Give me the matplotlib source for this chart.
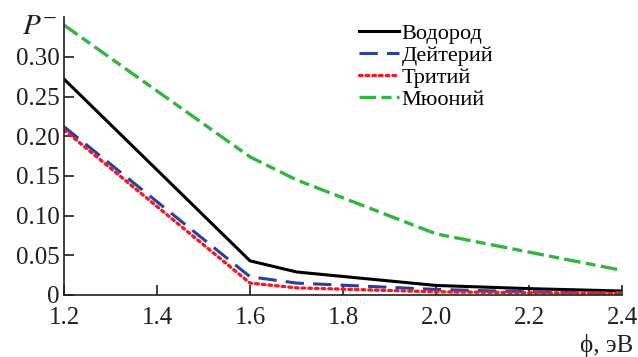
import matplotlib
matplotlib.use("Agg")
import matplotlib.pyplot as plt

# Data
phi = [1.2, 1.6, 1.7, 2.0, 2.2, 2.4]
hydrogen = [0.272, 0.043, 0.029, 0.012, 0.008, 0.005]
deuterium = [0.212, 0.023, 0.015, 0.007, 0.004, 0.003]
tritium = [0.208, 0.015, 0.009, 0.004, 0.003, 0.002]
muonium = [0.340, 0.174, 0.145, 0.077, 0.054, 0.031]

labels = ["Водород", "Дейтерий", "Тритий", "Мюоний"]
xticks = [1.2, 1.4, 1.6, 1.8, 2.0, 2.2, 2.4]
yticks = [0, 0.05, 0.10, 0.15, 0.20, 0.25, 0.30]
ytick_labels = ["0", "0.05", "0.10", "0.15", "0.20", "0.25", "0.30"]

plt.rcParams["font.family"] = ["Liberation Serif", "DejaVu Serif"]

fig = plt.figure(figsize=(6.38, 3.57), dpi=100)
ax = fig.add_axes([0.1003, 0.1737, 0.8747, 0.7783])

ax.plot(phi, hydrogen, color="black", lw=2.2, label=labels[0])
ax.plot(phi, deuterium, color="#2b3f9e", lw=2.2, dashes=(6, 3), label=labels[1])
ax.plot(phi, tritium, color="#ee1c24", lw=2.4, linestyle=(0, (0.8, 1.2)),
        dash_capstyle="round", label=labels[2])
ax.plot(phi, muonium, color="#33b540", lw=2.4, dashes=(5, 1.6, 3, 1.6), label=labels[3])

ax.set_xlim(1.2, 2.4)
ax.set_ylim(0, 0.35)
ax.set_xticks(xticks)
ax.set_xticklabels([f"{t:.1f}" for t in xticks])
ax.set_yticks(yticks)
ax.set_yticklabels(ytick_labels)
ax.tick_params(direction="in", length=7, width=1.2, labelsize=18, colors="#231f20")
ax.tick_params(axis="x", pad=9)
ax.tick_params(axis="y", pad=3)

for s in ["top", "right"]:
    ax.spines[s].set_visible(False)
for s in ["left", "bottom"]:
    ax.spines[s].set_linewidth(1.2)
    ax.spines[s].set_color("#231f20")

fig.text(0.034, 0.905, "$P^{-}$", fontsize=21, color="#231f20",
         math_fontfamily="stix")
fig.text(0.992, 0.015, "ϕ, эВ", fontsize=18, ha="right", color="#231f20")

ax.legend(loc="upper left", bbox_to_anchor=(0.505, 1.025), frameon=False,
          fontsize=16, handlelength=1.8, handletextpad=0.1,
          labelspacing=0.06, borderaxespad=0.2)

fig.savefig("out.png", dpi=100)
